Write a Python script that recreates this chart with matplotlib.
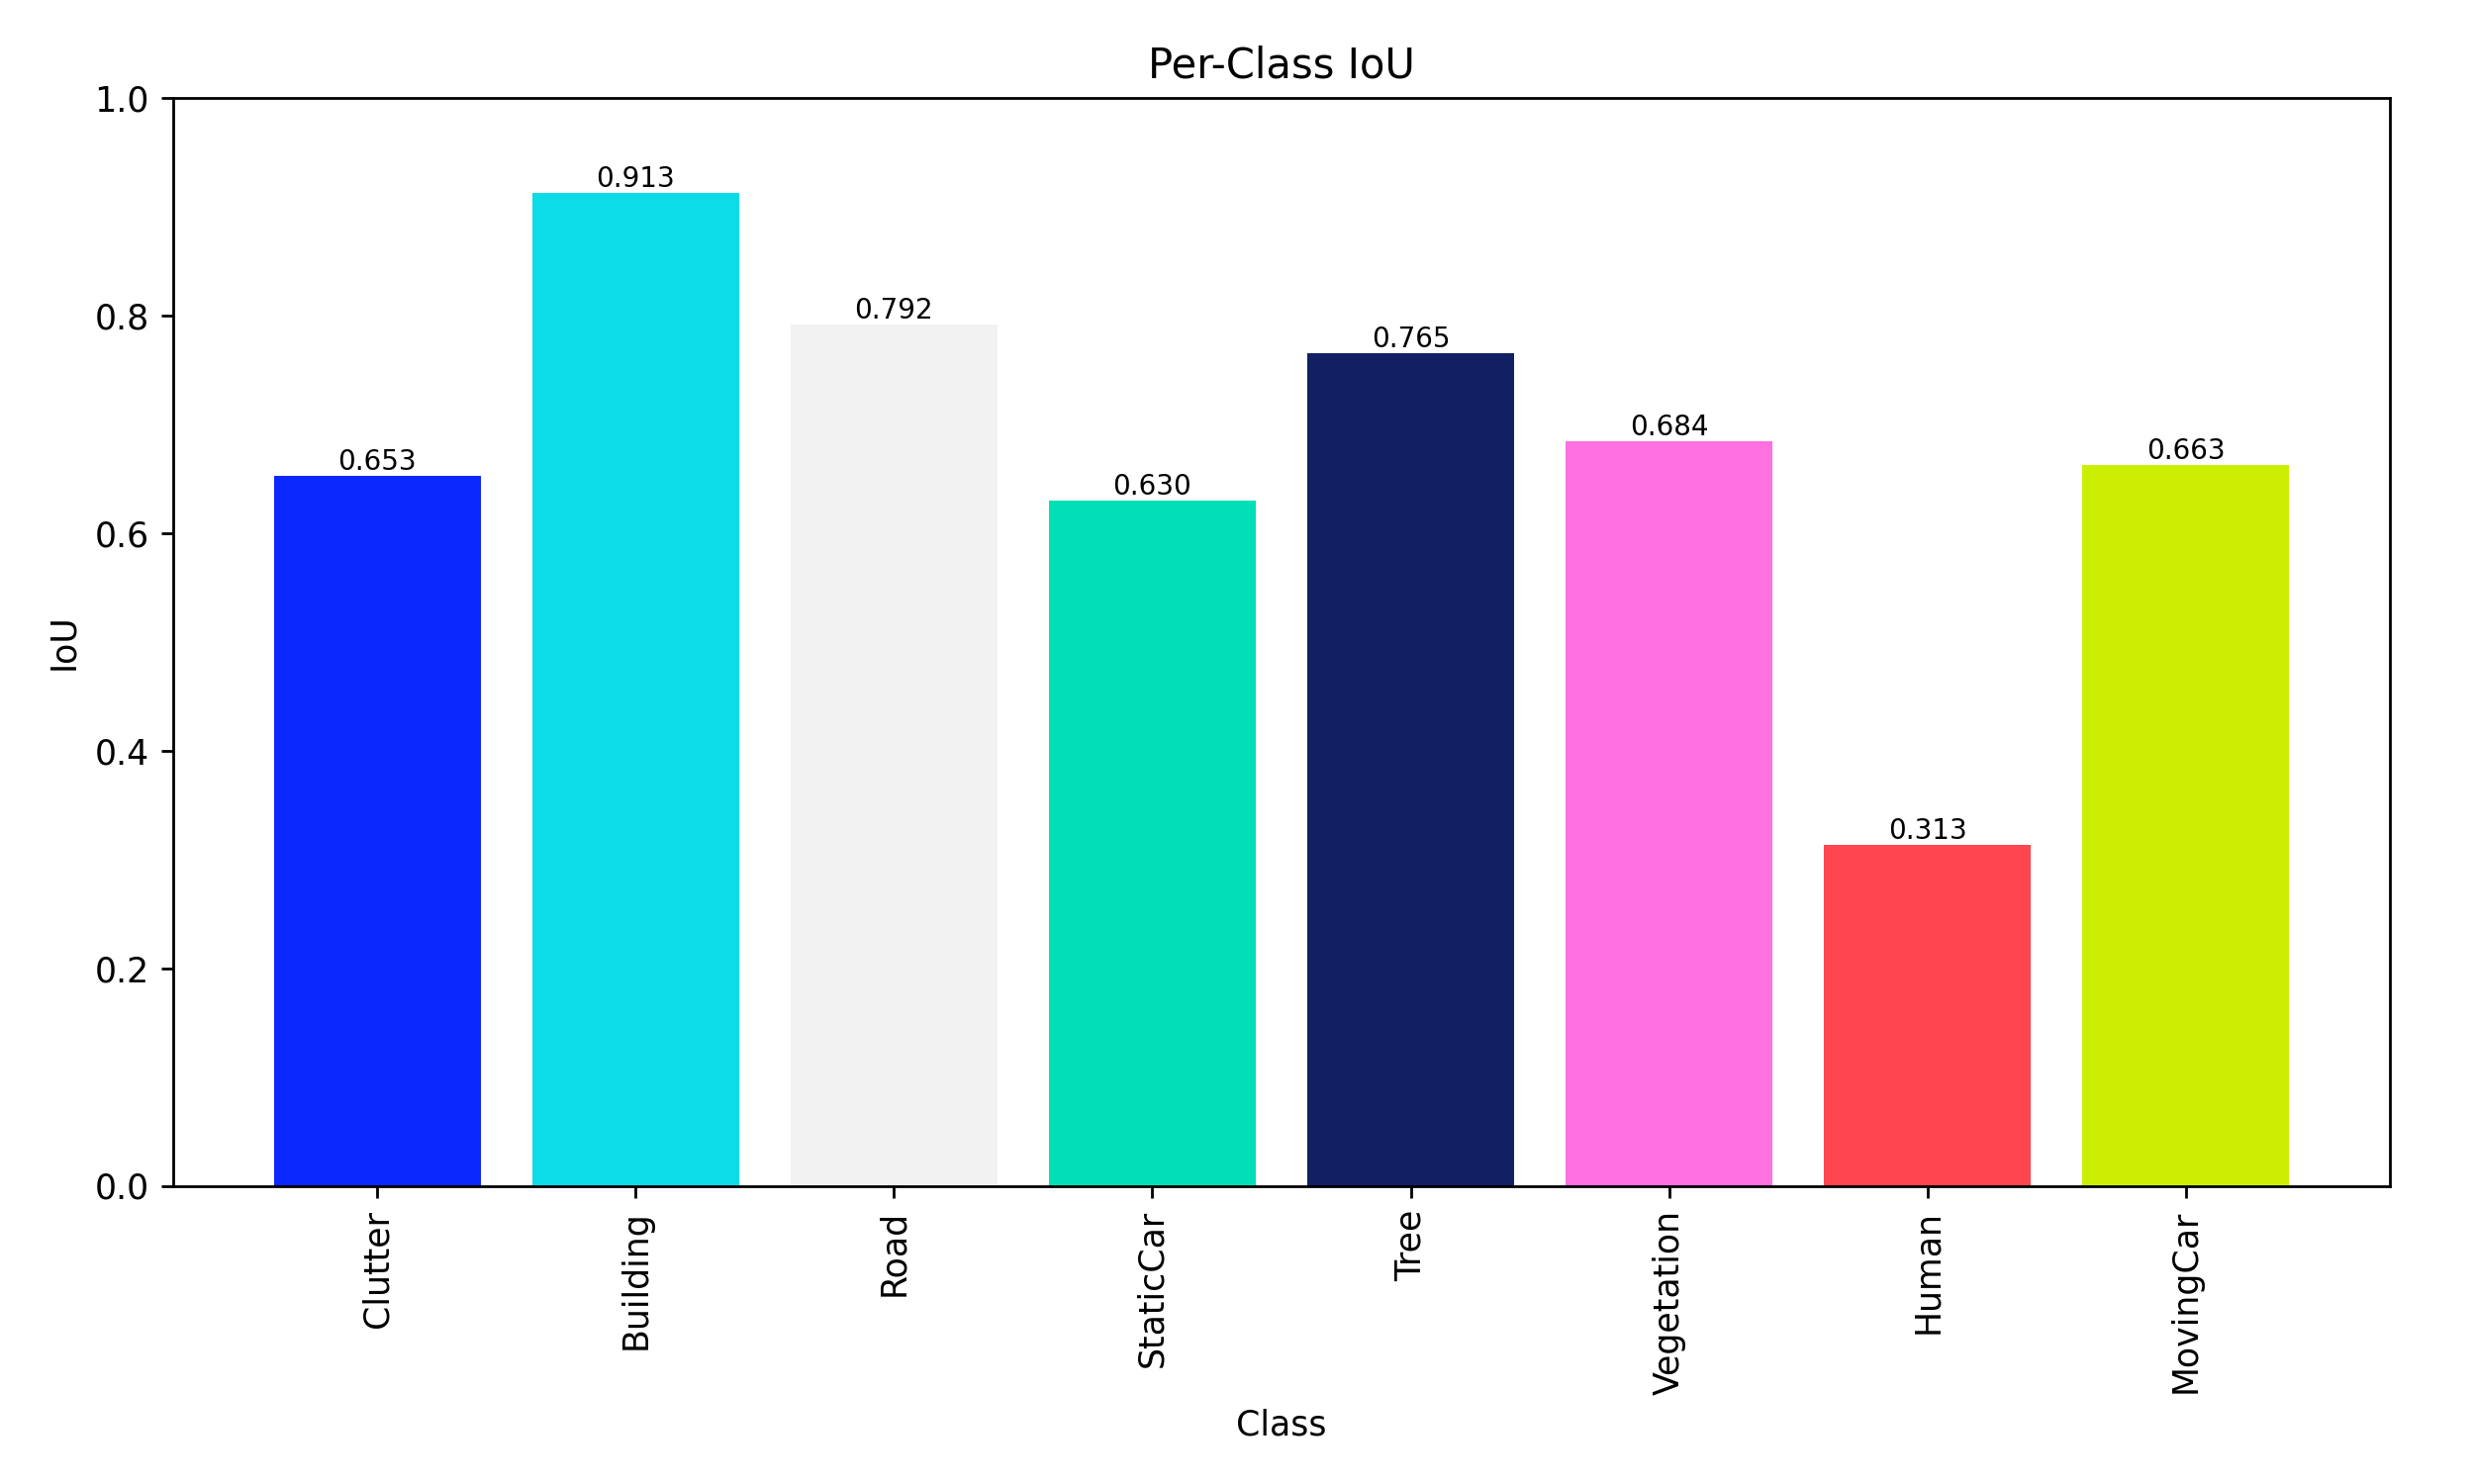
import matplotlib
matplotlib.use("Agg")
import matplotlib.pyplot as plt

classes = ["Clutter", "Building", "Road", "StaticCar", "Tree", "Vegetation", "Human", "MovingCar"]
iou = [0.653, 0.913, 0.792, 0.630, 0.765, 0.684, 0.313, 0.663]
colors = ["#0a28ff", "#0cdce8", "#f2f2f2", "#00dfb6", "#111f63", "#ff70e0", "#ff4550", "#ccee00"]

fig = plt.figure(figsize=(10, 6), dpi=250)
ax = fig.add_axes([0.070, 0.201, 0.896, 0.733])
bars = ax.bar(classes, iou, color=colors)
for b, v in zip(bars, iou):
    ax.text(b.get_x() + b.get_width() / 2, v, f"{v:.3f}", ha="center", va="bottom", fontsize=8)
ax.set_ylim(0, 1.0)
ax.set_title("Per-Class IoU")
ax.set_xlabel("Class")
ax.set_ylabel("IoU")
plt.setp(ax.get_xticklabels(), rotation=90)
fig.savefig("out.png")
